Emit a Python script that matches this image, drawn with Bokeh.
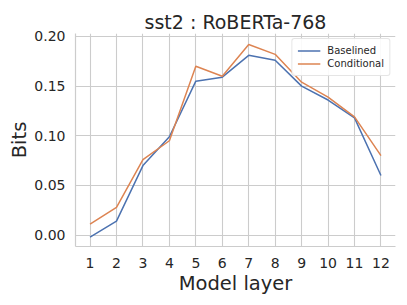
from bokeh.plotting import figure
from bokeh.models import Range1d, FixedTicker, Legend, LegendItem, CustomJSTickFormatter
from bokeh.embed import file_html
from bokeh.resources import INLINE

layers = [1, 2, 3, 4, 5, 6, 7, 8, 9, 10, 11, 12]
baselined = [-0.002, 0.014, 0.070, 0.099, 0.155, 0.159, 0.181, 0.176, 0.150, 0.136, 0.118, 0.060]
conditional = [0.011, 0.028, 0.076, 0.095, 0.170, 0.160, 0.192, 0.182, 0.154, 0.139, 0.119, 0.080]
y_ticks = [0.00, 0.05, 0.10, 0.15, 0.20]

p = figure(width=399, height=297, output_backend="svg", toolbar_location=None,
           x_range=Range1d(0.45, 12.55), y_range=Range1d(-0.0115, 0.203),
           min_border=0, min_border_left=75, min_border_right=4, min_border_top=33, min_border_bottom=50)

p.title.text = "sst2 : RoBERTa-768"
p.title.align = "center"
p.title.text_font = "DejaVu Sans"
p.title.text_font_size = "19px"
p.title.text_font_style = "normal"
p.title.text_color = "#262626"
p.title.standoff = 2

l1 = p.line(layers, baselined, line_color="#4c72b0", line_width=1.5)
l2 = p.line(layers, conditional, line_color="#dd8452", line_width=1.5)

p.xaxis.ticker = FixedTicker(ticks=layers)
p.yaxis.ticker = FixedTicker(ticks=y_ticks)
p.yaxis.formatter = CustomJSTickFormatter(code="return tick.toFixed(2);")

for ax in (p.xaxis[0], p.yaxis[0]):
    ax.axis_line_color = "#cccccc"
    ax.axis_line_width = 1.2
    ax.major_tick_line_color = None
    ax.minor_tick_line_color = None
    ax.major_label_text_font = "DejaVu Sans"
    ax.major_label_text_font_size = "14px"
    ax.major_label_text_color = "#262626"
    ax.axis_label_text_font = "DejaVu Sans"
    ax.axis_label_text_font_size = "19.5px"
    ax.axis_label_text_font_style = "normal"
    ax.axis_label_text_color = "#262626"

p.xaxis.axis_label = "Model layer"
p.yaxis.axis_label = "Bits"
p.xaxis.major_label_standoff = 5
p.yaxis.major_label_standoff = 4
p.xaxis.axis_label_standoff = 1
p.yaxis.axis_label_standoff = 0

p.xgrid.grid_line_color = "#cccccc"
p.ygrid.grid_line_color = "#cccccc"
p.xgrid.grid_line_width = 1.1
p.ygrid.grid_line_width = 1.1
p.outline_line_color = None

legend = Legend(items=[LegendItem(label="Baselined", renderers=[l1]),
                       LegendItem(label="Conditional", renderers=[l2])],
                location="top_right")
legend.label_text_font = "DejaVu Sans"
legend.label_text_font_size = "10px"
legend.label_text_color = "#262626"
legend.border_line_color = "#cccccc"
legend.border_line_width = 1
legend.background_fill_alpha = 0.9
legend.margin = 5
legend.padding = 5
legend.spacing = 0
legend.glyph_width = 23
legend.glyph_height = 13
legend.label_height = 13
legend.label_standoff = 7
legend.border_radius = 3
p.add_layout(legend)

open("out.html", "w").write(file_html(p, INLINE))
